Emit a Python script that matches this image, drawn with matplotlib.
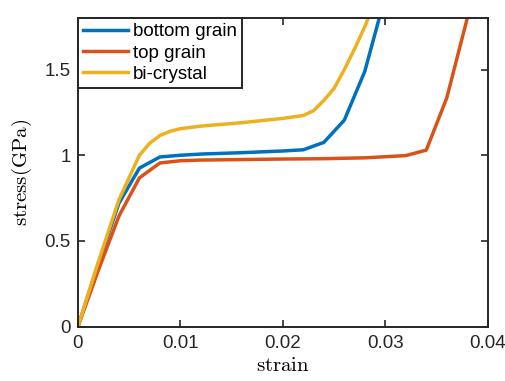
import matplotlib
matplotlib.use("Agg")
import matplotlib.pyplot as plt

# strain / stress data
bottom_strain = [0, 0.002, 0.004, 0.006, 0.008, 0.010, 0.012, 0.016, 0.020, 0.022, 0.024, 0.026, 0.028, 0.030]
bottom_stress = [0, 0.37, 0.72, 0.925, 0.99, 1.0, 1.007, 1.015, 1.025, 1.032, 1.075, 1.205, 1.49, 1.93]

top_strain = [0, 0.002, 0.004, 0.006, 0.008, 0.010, 0.012, 0.016, 0.020, 0.024, 0.028, 0.032, 0.034, 0.036, 0.038, 0.040]
top_stress = [0, 0.33, 0.645, 0.868, 0.955, 0.968, 0.972, 0.975, 0.978, 0.98, 0.985, 0.998, 1.03, 1.335, 1.8, 2.3]

bi_strain = [0, 0.002, 0.004, 0.006, 0.007, 0.008, 0.009, 0.010, 0.012, 0.016, 0.020, 0.022, 0.023, 0.024, 0.025, 0.026, 0.027, 0.028, 0.029]
bi_stress = [0, 0.38, 0.74, 1.0, 1.07, 1.115, 1.14, 1.155, 1.17, 1.19, 1.215, 1.232, 1.26, 1.32, 1.39, 1.5, 1.62, 1.75, 1.9]

x_ticks = [0, 0.01, 0.02, 0.03, 0.04]
x_labels = ["0", "0.01", "0.02", "0.03", "0.04"]
y_ticks = [0, 0.5, 1, 1.5]
y_labels = ["0", "0.5", "1", "1.5"]

plt.rcParams['font.family'] = ['Liberation Sans', 'DejaVu Sans']
plt.rcParams['mathtext.fontset'] = 'cm'

fig = plt.figure(figsize=(5.06, 3.81), dpi=100)
ax = fig.add_axes([0.154, 0.1425, 0.810, 0.81])

ax.plot(bottom_strain, bottom_stress, color='#0072BD', lw=2.5, label='bottom grain')
ax.plot(top_strain, top_stress, color='#D95319', lw=2.5, label='top grain')
ax.plot(bi_strain, bi_stress, color='#EDB120', lw=2.5, label='bi-crystal')

ax.set_xlim(0, 0.04)
ax.set_ylim(0, 1.8)
ax.set_xticks(x_ticks)
ax.set_xticklabels(x_labels)
ax.set_yticks(y_ticks)
ax.set_yticklabels(y_labels)
ax.tick_params(direction='in', top=True, right=True, labelsize=13.5, length=5, width=1.2,
               colors='#262626')
ax.tick_params(axis='x', pad=6)
ax.tick_params(axis='y', pad=5)
for spine in ax.spines.values():
    spine.set_linewidth(1.4)
    spine.set_color('#262626')

ax.set_xlabel(r'$\mathrm{strain}$', fontsize=15, labelpad=3)
ax.set_ylabel(r'$\mathrm{stress(GPa)}$', fontsize=15, labelpad=8)

leg = ax.legend(loc='upper left', fontsize=13.5, borderaxespad=0, fancybox=False,
                handlelength=2.4, handletextpad=0.25, borderpad=0.28, labelspacing=0.22)
leg.get_frame().set_edgecolor('#262626')
leg.get_frame().set_linewidth(1.4)
leg.get_frame().set_alpha(1)

plt.savefig('out.png', dpi=100)
plt.close()
